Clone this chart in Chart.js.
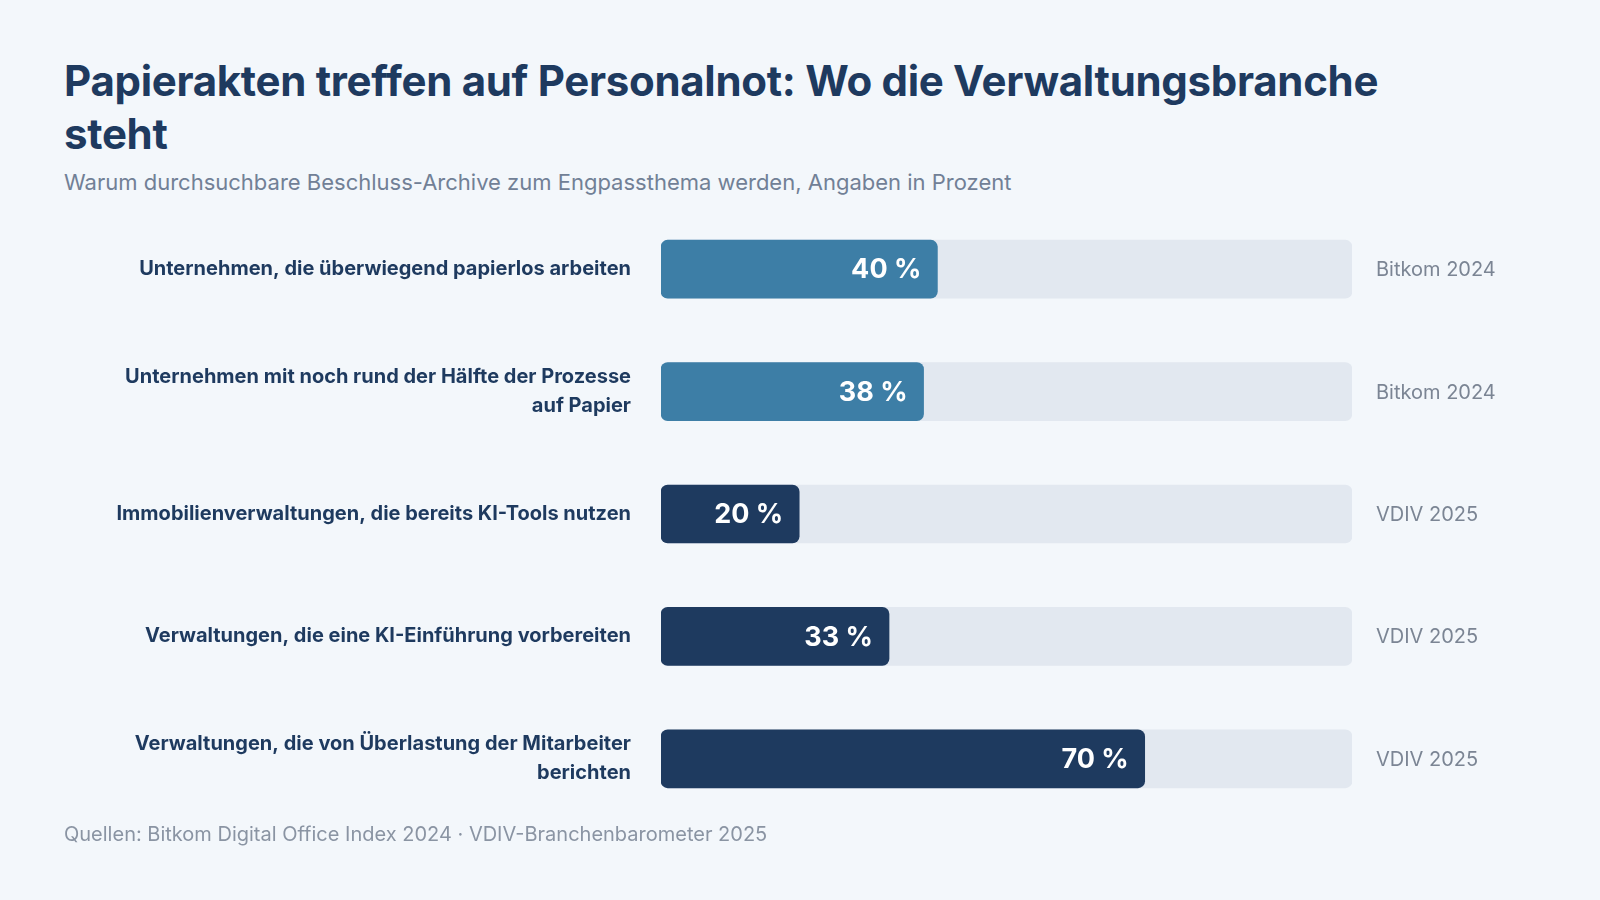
<!DOCTYPE html>
<html><head><meta charset="utf-8">
<script src="https://cdn.jsdelivr.net/npm/chart.js@4"></script>
<style>
html,body{margin:0;padding:0;background:#f3f7fb;font-family:Inter,"Noto Sans",sans-serif;}
#wrap{position:relative;width:1600px;height:900px;overflow:hidden;}
h1{position:absolute;left:64px;top:54px;margin:0;width:1400px;font-size:42px;line-height:53px;font-weight:700;color:#1e3a5f;letter-spacing:-0.3px;}
#sub{position:absolute;left:64px;top:169px;font-size:22px;color:#718096;}
#foot{position:absolute;left:64px;top:822px;font-size:20px;color:#8a94a3;}
canvas{position:absolute;left:0;top:0;}
</style></head><body>
<div id="wrap">
<h1>Papierakten treffen auf Personalnot: Wo die Verwaltungsbranche steht</h1>
<div id="sub">Warum durchsuchbare Beschluss-Archive zum Engpassthema werden, Angaben in Prozent</div>
<canvas id="c" width="1600" height="900"></canvas>
<div id="foot">Quellen: Bitkom Digital Office Index 2024 · VDIV-Branchenbarometer 2025</div>
</div>
<script>
const categories = [
  ["Unternehmen, die überwiegend papierlos arbeiten"],
  ["Unternehmen mit noch rund der Hälfte der Prozesse","auf Papier"],
  ["Immobilienverwaltungen, die bereits KI-Tools nutzen"],
  ["Verwaltungen, die eine KI-Einführung vorbereiten"],
  ["Verwaltungen, die von Überlastung der Mitarbeiter","berichten"]
];
const values = [40, 38, 20, 33, 70];
const sources = ["Bitkom 2024","Bitkom 2024","VDIV 2025","VDIV 2025","VDIV 2025"];
const barColors = ["#3d7ea6","#3d7ea6","#1e3a5f","#1e3a5f","#1e3a5f"];
const trackValues = values.map(()=>100);

const labelPlugin = {
  id:'labels',
  afterDatasetsDraw(chart){
    const ctx = chart.ctx;
    const meta = chart.getDatasetMeta(1);
    ctx.save();
    meta.data.forEach((bar,i)=>{
      ctx.font = '700 27px Inter, "Noto Sans", sans-serif';
      ctx.fillStyle = '#ffffff';
      ctx.textAlign = 'right';
      ctx.textBaseline = 'middle';
      ctx.fillText(values[i] + ' %', bar.x - 16, bar.y + 1);
      ctx.font = '20px Inter, "Noto Sans", sans-serif';
      ctx.fillStyle = '#7b8594';
      ctx.textAlign = 'left';
      ctx.fillText(sources[i], chart.chartArea.right + 24, bar.y + 1);
    });
    ctx.restore();
  }
};

new Chart(document.getElementById('c'), {
  type:'bar',
  data:{
    labels: categories,
    datasets:[
      {data: trackValues, backgroundColor:'#e2e8f0', borderRadius:7, borderSkipped:false, barThickness:58, grouped:false, order:2},
      {data: values, backgroundColor: barColors, borderRadius:7, borderSkipped:false, barThickness:58, grouped:false, order:1}
    ]
  },
  options:{
    indexAxis:'y',
    responsive:false,
    animation:false,
    layout:{padding:{top:208,bottom:80,left:0,right:248}},
    plugins:{legend:{display:false},tooltip:{enabled:false}},
    scales:{
      x:{min:0,max:100,display:false},
      y:{
        grid:{display:false},
        border:{display:false},
        afterFit(s){ s.width = 661; },
        ticks:{
          color:'#1e3a5f',
          padding:22,
          font:{family:'Inter, "Noto Sans", sans-serif', size:20, weight:'700', lineHeight:1.45}
        }
      }
    }
  },
  plugins:[labelPlugin]
});
</script>
</body></html>
